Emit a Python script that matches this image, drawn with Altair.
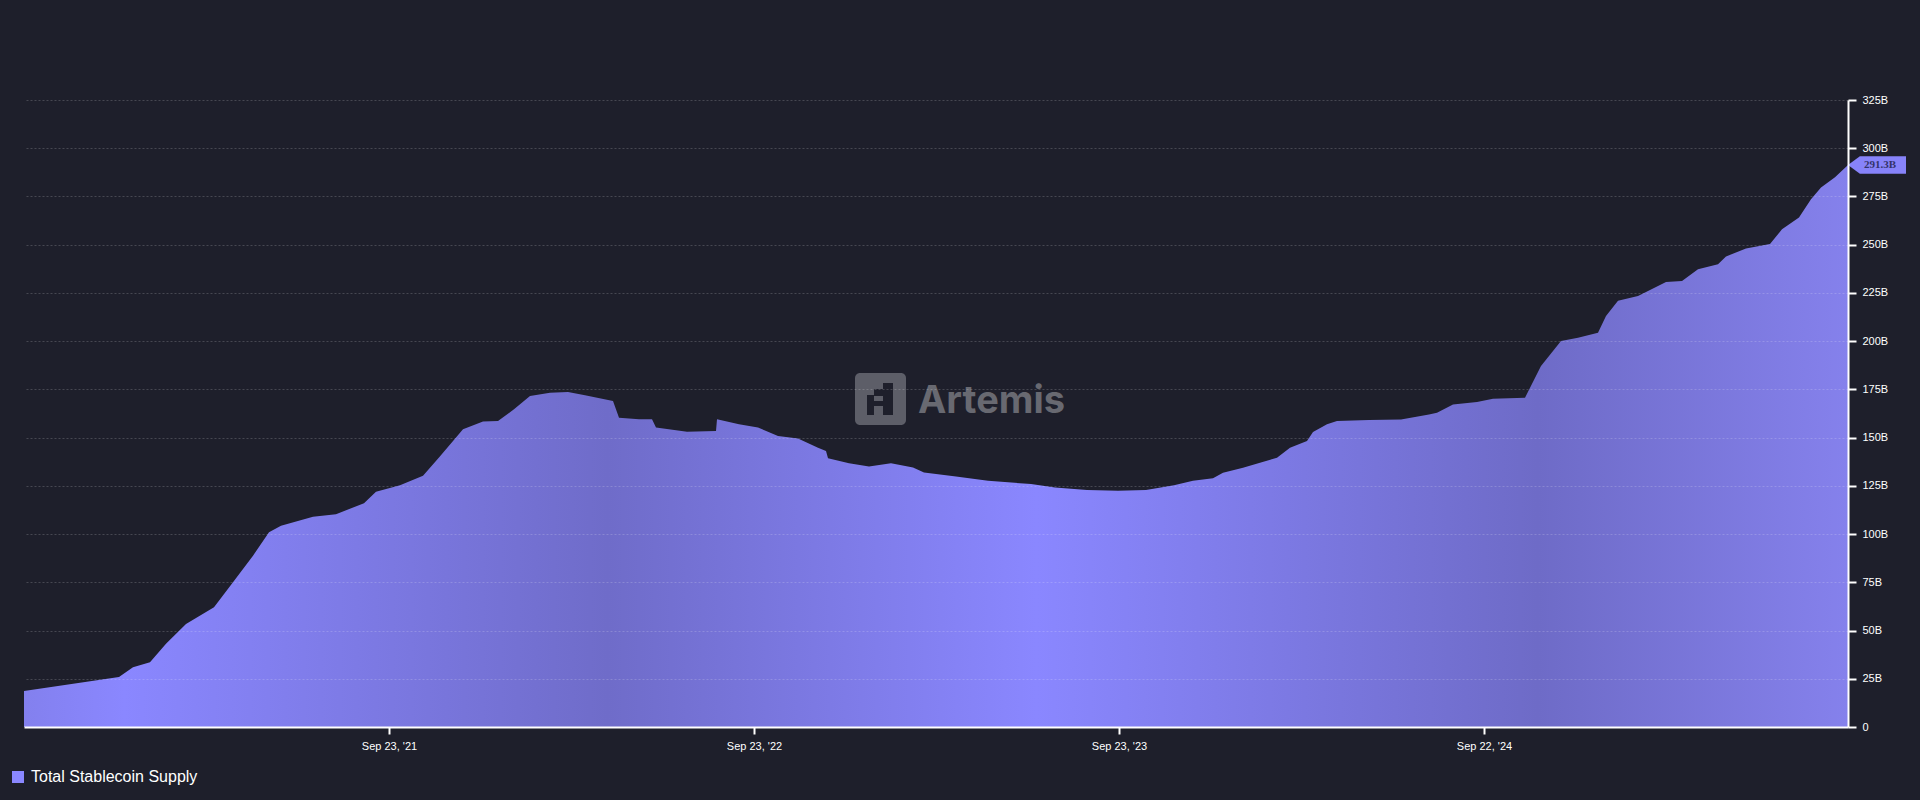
import altair as alt
import pandas as pd
import jinja2

# ---- data ----
dates = [
    "2020-09-23", "2020-12-27", "2021-01-10", "2021-01-27", "2021-02-12", "2021-03-04",
    "2021-04-01", "2021-04-20", "2021-05-10", "2021-05-26", "2021-06-07", "2021-07-09",
    "2021-08-01", "2021-08-29", "2021-09-10", "2021-10-04", "2021-10-27", "2021-11-12",
    "2021-12-06", "2021-12-26", "2022-01-10", "2022-01-26", "2022-02-11", "2022-03-03",
    "2022-03-21", "2022-04-07", "2022-05-05", "2022-05-11", "2022-05-31", "2022-06-13",
    "2022-06-17", "2022-07-18", "2022-08-16", "2022-08-17", "2022-09-08", "2022-09-27",
    "2022-10-17", "2022-11-06", "2022-11-26", "2022-12-04", "2022-12-06", "2022-12-27",
    "2023-01-16", "2023-02-07", "2023-03-01", "2023-03-12", "2023-04-13", "2023-05-15",
    "2023-06-27", "2023-07-21", "2023-08-22", "2023-09-22", "2023-10-20", "2023-11-17",
    "2023-12-06", "2023-12-26", "2024-01-05", "2024-01-25", "2024-02-11", "2024-02-28",
    "2024-03-12", "2024-03-29", "2024-04-04", "2024-04-18", "2024-04-28", "2024-05-30",
    "2024-07-01", "2024-07-29", "2024-08-06", "2024-08-22", "2024-09-15", "2024-10-01",
    "2024-11-02", "2024-11-18", "2024-12-08", "2024-12-25", "2025-01-14", "2025-01-22",
    "2025-02-03", "2025-02-23", "2025-03-23", "2025-04-08", "2025-04-24", "2025-05-14",
    "2025-05-22", "2025-06-11", "2025-07-05", "2025-07-17", "2025-08-03", "2025-08-15",
    "2025-08-25", "2025-09-08", "2025-09-21",
]
supply = [
    18.6, 25.9, 31.0, 33.6, 43.1, 53.4,
    62.1, 75.0, 88.8, 100.9, 104.3, 109.0,
    110.3, 116.0, 121.9, 125.3, 130.2, 139.7,
    154.3, 158.3, 158.6, 164.7, 171.6, 173.3,
    173.6, 171.9, 169.0, 160.3, 159.5, 159.5,
    155.2, 153.1, 153.4, 159.5, 156.9, 155.2,
    150.9, 149.5, 144.8, 143.1, 139.3, 136.7,
    135.0, 136.7, 134.5, 131.9, 129.8, 127.6,
    125.9, 124.1, 122.8, 122.4, 122.8, 125.3,
    127.6, 129.0, 131.8, 134.4, 137.0, 139.6,
    144.8, 148.3, 152.9, 156.9, 158.6, 159.1,
    159.4, 162.0, 162.9, 167.2, 168.4, 170.2,
    170.7, 187.1, 200.1, 201.8, 204.4, 213.1,
    220.9, 223.4, 230.7, 231.2, 237.3, 239.9,
    243.9, 248.0, 250.3, 258.0, 264.1, 273.6,
    279.7, 284.9, 291.3,
]
series_name = "Total Stablecoin Supply"
y_tick_values = [0, 25, 50, 75, 100, 125, 150, 175, 200, 225, 250, 275, 300, 325]
x_tick_dates = [(2021, 9, 23), (2022, 9, 23), (2023, 9, 23), (2024, 9, 22)]
x_domain = [(2020, 9, 23), (2025, 9, 21)]
watermark_text = "Artemis"

BG = "#1e1f2b"
FONT = "Liberation Sans"

# page template with a dark page background (so the 8px body margin is dark too)
PAGE = jinja2.Template("""<!DOCTYPE html>
<html>
<head>
<meta charset="utf-8">
<style>
  html, body { background: """ + BG + """; }
  #{{ output_div }}.vega-embed { width: 100%; display: flex; }
</style>
<script type="text/javascript" src="{{ base_url }}/vega@{{ vega_version }}"></script>
<script type="text/javascript" src="{{ base_url }}/vega-lite@{{ vegalite_version }}"></script>
<script type="text/javascript" src="{{ base_url }}/vega-embed@{{ vegaembed_version }}"></script>
</head>
<body>
<div id="{{ output_div }}"></div>
<script>
  (function(vegaEmbed) {
    var spec = {{ spec }};
    var embedOpt = {{ embed_options }};
    vegaEmbed("#{{ output_div }}", spec, embedOpt).catch(function(err) {
      document.getElementById("{{ output_div }}").innerHTML = String(err);
    });
  })(vegaEmbed);
</script>
</body>
</html>
""")

df = pd.DataFrame({
    "date": [d + "T00:00:00" for d in dates],
    "supply": supply,
    "series": series_name,
})
last = df.iloc[[-1]].copy()
last["label"] = [f"{v:.1f}B" for v in last["supply"]]

x_enc = alt.X(
    "date:T",
    title=None,
    scale=alt.Scale(domain=[alt.DateTime(year=y, month=m, date=d) for y, m, d in x_domain], nice=False),
    axis=alt.Axis(
        values=[alt.DateTime(year=y, month=m, date=d) for y, m, d in x_tick_dates],
        format="%b %d, '%y",
        grid=False,
        domainColor="#ffffff",
        domainWidth=2,
        tickColor="#ffffff",
        tickWidth=2,
        tickSize=7,
        labelColor="#ffffff",
        labelFont=FONT,
        labelFontSize=11,
        labelPadding=6,
        zindex=1,
    ),
)
y_enc = alt.Y(
    "supply:Q",
    title=None,
    scale=alt.Scale(domain=[0, 325], nice=False),
    axis=alt.Axis(
        orient="right",
        values=y_tick_values,
        labelExpr="datum.value == 0 ? '0' : datum.value + 'B'",
        grid=True,
        gridColor="#ffffff",
        gridOpacity=0.18,
        gridDash=[2, 2],
        gridWidth=1,
        domainColor="#ffffff",
        domainWidth=2,
        tickColor="#ffffff",
        tickWidth=2,
        tickSize=8,
        labelColor="#ffffff",
        labelFont=FONT,
        labelFontSize=11,
        labelPadding=6,
        zindex=1,
    ),
)

gradient = alt.Gradient(
    gradient="linear",
    x1=0, x2=1, y1=0, y2=0,
    stops=[
        alt.GradientStop(offset=0.0, color="#8380ee"),
        alt.GradientStop(offset=0.055, color="#8a87ff"),
        alt.GradientStop(offset=0.32, color="#6f6cc9"),
        alt.GradientStop(offset=0.555, color="#8a87ff"),
        alt.GradientStop(offset=0.83, color="#6e6bc7"),
        alt.GradientStop(offset=1.0, color="#8581ec"),
    ],
)

area = alt.Chart(df).mark_area(fill=gradient, interpolate="linear").encode(x=x_enc, y=y_enc)

legend_layer = alt.Chart(last).mark_square(opacity=0).encode(
    x=alt.X("date:T"),
    y=alt.Y("supply:Q"),
    color=alt.Color(
        "series:N",
        scale=alt.Scale(range=["#8a87ff"]),
        legend=alt.Legend(
            title=None,
            orient="none",
            legendX=-14,
            legendY=669,
            symbolType="square",
            symbolSize=144,
            symbolOpacity=1,
            symbolStrokeWidth=0,
            labelColor="#ffffff",
            labelFont=FONT,
            labelFontSize=16,
            labelOffset=5,
            labelLimit=600,
            padding=0,
        ),
    ),
)

tag = alt.Chart(last).mark_point(
    shape="M -1 0 L -0.59 -0.3 L 1 -0.3 L 1 0.3 L -0.59 0.3 Z",
    filled=True,
    size=3364,
    color="#8783fa",
    opacity=1,
    strokeWidth=0,
    xOffset=29,
).encode(x=alt.X("date:T"), y=alt.Y("supply:Q"))

tag_text = alt.Chart(last).mark_text(
    font="Liberation Serif",
    fontWeight="bold",
    fontSize=11,
    color="#33336a",
    dx=32,
    align="center",
    baseline="middle",
).encode(x=alt.X("date:T"), y=alt.Y("supply:Q"), text="label:N")

one = pd.DataFrame({"k": [0]})
wm_box = alt.Chart(one).mark_rect(color="#5d5e68", cornerRadius=5).encode(
    x=alt.value(831), x2=alt.value(882), y=alt.value(273), y2=alt.value(325)
)
wm_glyph_parts = [
    (843, 850, 295, 315),
    (859, 869, 283, 315),
    (850, 859, 301, 306),
    (850, 859, 289, 296),
]
glyph_df = pd.DataFrame(wm_glyph_parts, columns=["x0", "x1", "y0", "y1"])
wm_glyph = alt.Chart(glyph_df).mark_rect(color=BG).encode(
    x=alt.X("x0:Q", scale=None), x2="x1:Q", y=alt.Y("y0:Q", scale=None), y2="y1:Q"
)
wm_text = alt.Chart(one).mark_text(
    text=watermark_text,
    font="Inter",
    fontWeight="bold",
    fontSize=38,
    color="#686971",
    align="left",
    baseline="alphabetic",
).encode(x=alt.value(894), y=alt.value(313))

chart = (
    alt.layer(area, wm_box, wm_glyph, wm_text, legend_layer, tag, tag_text)
    .properties(
        width=1824,
        height=627,
        background=BG,
        padding={"left": 2, "top": 86, "right": 3, "bottom": 0},
    )
    .configure_view(strokeWidth=0)
)

chart.save("out.html", embed_options={"renderer": "svg", "actions": False}, template=PAGE)
